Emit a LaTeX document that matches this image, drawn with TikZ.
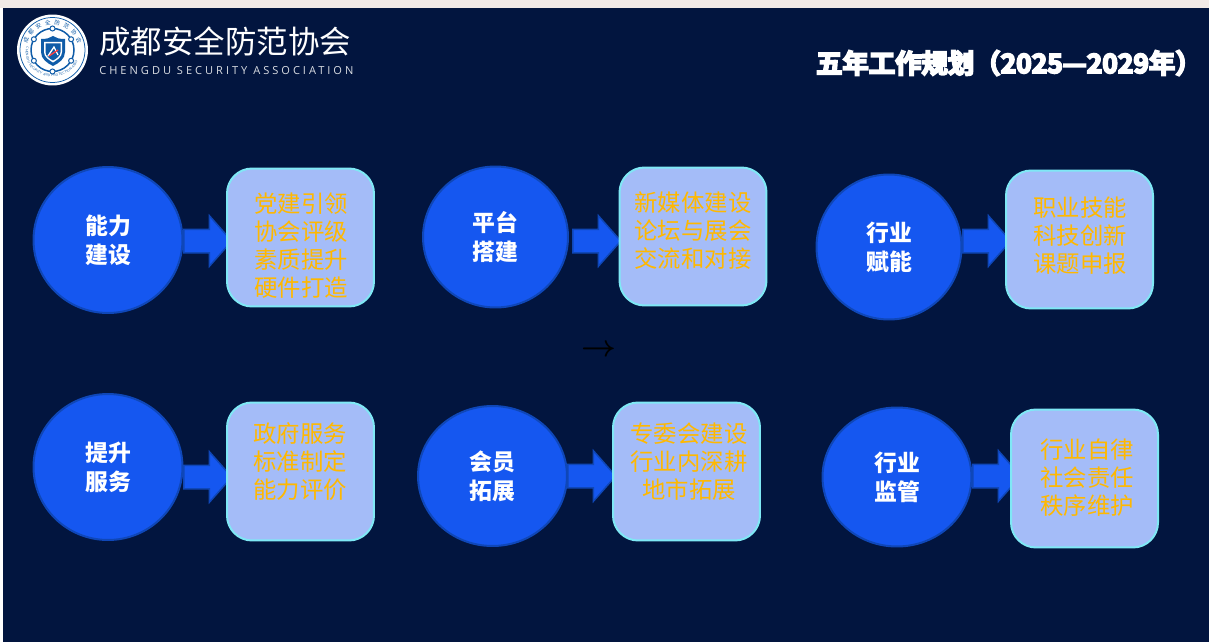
\documentclass[tikz,border=0pt]{standalone}
\usepackage{fontspec}
\usetikzlibrary{shapes.geometric,shapes.arrows,positioning,decorations.text}
\newfontfamily\cjk{Noto Sans CJK SC}
\newfontfamily\cjkheavy[FakeBold=7]{Noto Sans CJK SC Bold}
\newfontfamily\latinspaced[LetterSpace=27]{Open Sans}
\definecolor{navybg}{HTML}{02153F}
\definecolor{pagetop}{HTML}{F1EAE7}
\definecolor{capfill}{HTML}{1557F0}
\definecolor{capline}{HTML}{0F47B8}
\definecolor{itemfill}{HTML}{A4BCF8}
\definecolor{itemline}{HTML}{7FE8F5}
\definecolor{itemtext}{HTML}{FFB800}
\definecolor{logoblue}{HTML}{0F5CA8}
\tikzset{
   capnode/.style={ellipse, draw=capline, fill=capfill, line width=0.04cm, inner sep=0pt,
      text=white, align=center, font=\cjk\bfseries\fontsize{13}{16.4}\selectfont},
   itembox/.style={rectangle, rounded corners=0.5cm, draw=itemline, fill=itemfill, line width=0.04cm,
      minimum width=2.94cm, minimum height=2.76cm},
   itemlabel/.style={text=itemtext, align=center, inner sep=0pt,
      font=\cjk\fontsize{13.3}{15.9}\selectfont},
   flowarrow/.style={single arrow, draw=capline, fill=capfill, line width=0.03cm, inner sep=0pt,
      text height=0.44cm, text depth=0pt, text width=0pt, anchor=tail,
      minimum height=0.96cm, minimum width=1.0cm, single arrow head extend=0.27cm,
      single arrow tip angle=97},
   logochar/.style={inner sep=0pt, text=logoblue, font=\cjk\fontsize{3.2}{3.2}\selectfont},
   logoknot/.style={circle, draw=logoblue, line width=0.02cm, minimum size=0.1cm, inner sep=0pt},
}
\begin{document}
\begin{tikzpicture}[x=0.02cm,y=-0.02cm]
   \useasboundingbox (0,0) rectangle (1209,642);
   \fill[white] (0,0) rectangle (1209,642);
   \fill[pagetop] (0,0) rectangle (1209,8);
   \fill[navybg] (3,8) rectangle (1209,642);

   % logo
   \node[circle, fill=white, minimum size=1.42cm, inner sep=0pt] (logo) at (52.5,50) {};
   \node[circle, draw=logoblue, line width=0.015cm, minimum size=1.3cm, inner sep=0pt] (logoouter) at (logo) {};
   \node[circle, draw=logoblue, line width=0.03cm, minimum size=0.86cm, inner sep=0pt] (logoring) at (logo) {};
   \begin{scope}[shift={(52.5,50)}]
      \node[logochar, rotate=70] (lc1) at (-160:28) {成};
      \node[logochar, rotate=50] (lc2) at (-140:28) {都};
      \node[logochar, rotate=30] (lc3) at (-120:28) {安};
      \node[logochar, rotate=10] (lc4) at (-100:28) {全};
      \node[logochar, rotate=-10] (lc5) at (-80:28) {防};
      \node[logochar, rotate=-30] (lc6) at (-60:28) {范};
      \node[logochar, rotate=-50] (lc7) at (-40:28) {协};
      \node[logochar, rotate=-70] (lc8) at (-20:28) {会};
      \node[logoknot, fill=white] (kn1) at (-90:21.5) {};
      \node[logoknot, fill=white] (kn2) at (-30:21.5) {};
      \node[logoknot, fill=white] (kn3) at (30:21.5) {};
      \node[logoknot, fill=white] (kn4) at (90:21.5) {};
      \node[logoknot, fill=white] (kn5) at (150:21.5) {};
      \node[logoknot, fill=white] (kn6) at (-150:21.5) {};
   \end{scope}
   \path[decorate, decoration={text along path, text align=center,
         text={|\fontsize{1.9}{2}\selectfont\sffamily\color{logoblue}|CHENGDU SECURITY AND PROTECTION ASSOCIATION}}]
      (27,60) .. controls (34,82) and (71,82) .. (78,60);
   \fill[logoblue] (41,39) .. controls (47,39) and (50,38) .. (53,36)
      .. controls (56,38) and (59,39) .. (65,39) -- (65,52)
      .. controls (65,59) and (59,63) .. (53,66)
      .. controls (47,63) and (41,59) .. (41,52) -- cycle;
   \fill[white] (44,42) -- (62,42) -- (62,52) .. controls (62,57) and (57,60) .. (53,62.5)
      .. controls (49,60) and (44,57) .. (44,52) -- cycle;
   \fill[logoblue] (45.5,43.5) -- (60.5,43.5) -- (60.5,52) .. controls (60.5,56) and (56,59) .. (53,60.5)
      .. controls (50,59) and (45.5,56) .. (45.5,52) -- cycle;
   \draw[white, line width=0.025cm] (48,56) -- (54,47) -- (58,55);
   \draw[red!75!white, line width=0.025cm] (49,56) -- (58,50);

   % header
   \node[anchor=west, inner sep=0pt, text=white, font=\cjk\fontsize{17.9}{20}\selectfont] (orgname) at (99,41) {成都安全防范协会};
   \node[anchor=west, inner sep=0pt, text=white!85!navybg, font=\latinspaced\fontsize{6.3}{8}\selectfont] (orgen) at (99,71) {CHENGDU SECURITY ASSOCIATION};
   \node[anchor=east, inner sep=0pt, text=white, font=\cjkheavy\fontsize{15}{18}\selectfont] (title) at (1202,63) {五年工作规划（2025—2029年）};

   % stray glyph
   \node[inner sep=0pt, text=black, font=\boldmath\fontsize{17}{17}\selectfont] (glyph) at (599,351) {\(\rightarrow\)};

   % upper row
   \node[capnode, minimum width=2.98cm, minimum height=2.92cm] (cap1) at (108,240) {能力\\建设};
   \node[capnode, minimum width=2.9cm, minimum height=2.82cm] (cap2) at (495.5,237) {平台\\搭建};
   \node[capnode, minimum width=2.9cm, minimum height=2.9cm] (cap3) at (889,247) {行业\\赋能};

   \node[flowarrow] (arr1) at (183,241) {};
   \node[flowarrow] (arr2) at (572,241) {};
   \node[flowarrow] (arr3) at (962,241) {};

   \node[itembox] (box1) at (300.5,237.5) {};
   \node[itembox] (box2) at (693,236.5) {};
   \node[itembox] (box3) at (1079.5,239.5) {};

   \node[itemlabel] (txt1) at (301,246) {党建引领\\协会评级\\素质提升\\硬件打造};
   \node[itemlabel] (txt2) at (693,231) {新媒体建设\\论坛与展会\\交流和对接};
   \node[itemlabel] (txt3) at (1080,236) {职业技能\\科技创新\\课题申报};

   % lower row
   \node[capnode, minimum width=2.98cm, minimum height=2.92cm] (cap4) at (108,467) {提升\\服务};
   \node[capnode, minimum width=2.98cm, minimum height=2.8cm] (cap5) at (492.5,476) {会员\\拓展};
   \node[capnode, minimum width=2.98cm, minimum height=2.78cm] (cap6) at (897,477) {行业\\监管};

   \node[flowarrow] (arr4) at (183,477) {};
   \node[flowarrow] (arr5) at (567,476) {};
   \node[flowarrow] (arr6) at (972,476) {};

   \node[itembox] (box4) at (300.5,471.5) {};
   \node[itembox] (box5) at (686.5,471.5) {};
   \node[itembox] (box6) at (1084.5,478.5) {};

   \node[itemlabel] (txt4) at (300,462) {政府服务\\标准制定\\能力评价};
   \node[itemlabel] (txt5) at (689,462) {专委会建设\\行业内深耕\\地市拓展};
   \node[itemlabel] (txt6) at (1087,478) {行业自律\\社会责任\\秩序维护};
\end{tikzpicture}
\end{document}
